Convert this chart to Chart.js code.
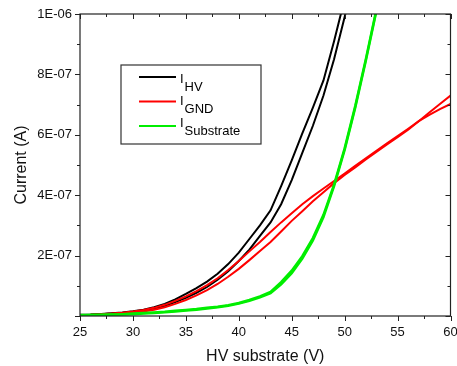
<!DOCTYPE html>
<html>
<head>
<meta charset="utf-8">
<script src="https://cdn.jsdelivr.net/npm/chart.js@4"></script>
<style>
  body { margin: 0; background: #fff; }
  #container { width: 457px; height: 366px; }
</style>
</head>
<body>
<div id="container"></div>
<script>
// bias voltage, V (one reading per volt)
var voltage = [25, 26, 27, 28, 29, 30, 31, 32, 33, 34, 35, 36, 37, 38, 39, 40, 41, 42,
               43, 44, 45, 46, 47, 48, 49, 50, 51, 52, 53, 54, 55, 56, 57, 58, 59, 60];

// currents in units of 1E-07 A, two sweeps per terminal
var hvSweep1 = [0.04, 0.05, 0.07, 0.09, 0.12, 0.16, 0.21, 0.29, 0.40, 0.55, 0.73, 0.92, 1.14, 1.40,
                1.72, 2.10, 2.55, 3.00, 3.50, 4.30, 5.15, 6.05, 6.90, 7.80, 9.10, 10.5, 12.0];
var hvSweep2 = [0.03, 0.04, 0.06, 0.08, 0.10, 0.13, 0.18, 0.25, 0.34, 0.46, 0.60, 0.77, 0.96, 1.20,
                1.48, 1.82, 2.20, 2.65, 3.10, 3.70, 4.50, 5.40, 6.30, 7.30, 8.50, 9.90, 11.4];
var gndSweep1 = [0.03, 0.04, 0.06, 0.08, 0.11, 0.15, 0.20, 0.27, 0.37, 0.50, 0.65, 0.82, 1.02, 1.25,
                 1.52, 1.82, 2.14, 2.45, 2.78, 3.10, 3.40, 3.70, 3.97, 4.22, 4.47, 4.72, 4.97, 5.22,
                 5.47, 5.72, 5.96, 6.20, 6.45, 6.66, 6.85, 7.02];
var gndSweep2 = [0.02, 0.03, 0.04, 0.06, 0.08, 0.11, 0.15, 0.21, 0.29, 0.40, 0.53, 0.68, 0.86, 1.06,
                 1.30, 1.56, 1.85, 2.15, 2.45, 2.80, 3.15, 3.47, 3.80, 4.10, 4.40, 4.67, 4.92, 5.18,
                 5.43, 5.68, 5.92, 6.17, 6.45, 6.74, 7.02, 7.30];
var subSweep1 = [0.03, 0.03, 0.04, 0.05, 0.06, 0.08, 0.10, 0.12, 0.14, 0.17, 0.20, 0.23, 0.27, 0.31,
                 0.36, 0.43, 0.53, 0.65, 0.80, 1.12, 1.50, 1.98, 2.58, 3.35, 4.35, 5.55, 6.95, 8.50,
                 10.15, 11.9];
var subSweep2 = [0.02, 0.03, 0.03, 0.04, 0.05, 0.06, 0.08, 0.10, 0.12, 0.15, 0.18, 0.21, 0.25, 0.29,
                 0.34, 0.41, 0.50, 0.62, 0.76, 1.05, 1.42, 1.90, 2.50, 3.28, 4.30, 5.50, 6.90, 8.45,
                 10.1, 11.85];
var unit = 1e-7;

var yTickLabels = ['', '2E-07', '4E-07', '6E-07', '8E-07', '1E-06'];
var legendSubs = ['HV', 'GND', 'Substrate'];
var seriesColors = ['#000000', '#ff0000', '#00ee00'];

function toPoints(values) {
    return values.map(function (v, i) { return { x: voltage[i], y: v * unit }; });
}

function sweep(values, color, width, order) {
    return {
        data: toPoints(values),
        borderColor: color,
        borderWidth: width,
        pointRadius: 0,
        tension: 0,
        fill: false,
        clip: 0,
        order: order
    };
}

var chartCanvas = document.createElement('canvas');
chartCanvas.id = 'chartcanvas';
chartCanvas.width = 457;
chartCanvas.height = 366;
document.getElementById('container').appendChild(chartCanvas);

// frame, minor ticks and mirror ticks like the Origin plot
var framePlugin = {
    id: 'frame',
    afterDraw: function (chart) {
        var c = chart.ctx, a = chart.chartArea;
        var xs = chart.scales.x, ys = chart.scales.y;
        c.save();
        c.strokeStyle = '#222';
        c.lineWidth = 1.2;
        c.strokeRect(a.left, a.top, a.right - a.left, a.bottom - a.top);
        c.lineWidth = 1;
        c.beginPath();
        for (var v = 25; v <= 60; v += 2.5) {
            var px = Math.round(xs.getPixelForValue(v)) + 0.5;
            var len = (v % 5 === 0) ? 5 : 3;
            c.moveTo(px, a.bottom); c.lineTo(px, a.bottom + len);
            c.moveTo(px, a.top); c.lineTo(px, a.top + len);
        }
        for (var k = 0; k <= 10; k++) {
            var py = Math.round(ys.getPixelForValue(k * 1e-7)) + 0.5;
            var l = (k % 2 === 0) ? 5 : 3;
            c.moveTo(a.left, py); c.lineTo(a.left - l, py);
            c.moveTo(a.right, py); c.lineTo(a.right - l, py);
        }
        c.stroke();

        // legend with subscripts
        c.strokeStyle = '#333';
        c.lineWidth = 1.2;
        c.strokeRect(121, 65, 140, 79);
        c.textBaseline = 'alphabetic';
        c.textAlign = 'left';
        for (var i = 0; i < legendSubs.length; i++) {
            var ly = 77 + 24.5 * i;
            c.strokeStyle = seriesColors[i];
            c.lineWidth = 2;
            c.beginPath();
            c.moveTo(139, ly); c.lineTo(176, ly);
            c.stroke();
            var ty = 83 + 22 * i;
            c.fillStyle = '#000';
            c.font = '13px "Liberation Sans", Arial, sans-serif';
            c.fillText('I', 180, ty);
            var w = c.measureText('I').width;
            c.fillText(legendSubs[i], 180 + w + 1, ty + 7.5);
        }
        c.restore();
    }
};

var tickFont = { family: '"Liberation Sans", Arial, sans-serif', size: 13 };
var titleFont = { family: '"Liberation Sans", Arial, sans-serif', size: 16 };

var myChart = new Chart(chartCanvas, {
    type: 'line',
    data: {
        datasets: [
            sweep(hvSweep1, seriesColors[0], 2, 3),
            sweep(hvSweep2, seriesColors[0], 2, 3),
            sweep(gndSweep1, seriesColors[1], 2, 2),
            sweep(gndSweep2, seriesColors[1], 2, 2),
            sweep(subSweep1, seriesColors[2], 2.5, 1),
            sweep(subSweep2, seriesColors[2], 2.5, 1)
        ]
    },
    options: {
        responsive: false,
        animation: false,
        layout: { padding: { left: 0, right: 6.5, top: 14, bottom: 0 } },
        plugins: {
            legend: { display: false },
            tooltip: { enabled: false }
        },
        scales: {
            x: {
                type: 'linear',
                min: 25,
                max: 60,
                border: { display: false },
                grid: { drawOnChartArea: false, color: 'rgba(0,0,0,0)', tickLength: 5 },
                ticks: { stepSize: 5, color: '#111', font: tickFont, padding: 4, maxRotation: 0 },
                title: { display: true, text: 'HV substrate (V)', color: '#111', font: titleFont,
                         padding: { top: 0, bottom: 0 } },
                afterFit: function (s) { s.height = 50; s.paddingLeft = 0; s.paddingRight = 0; }
            },
            y: {
                type: 'linear',
                min: 0,
                max: 1e-6,
                border: { display: false },
                grid: { drawOnChartArea: false, color: 'rgba(0,0,0,0)', tickLength: 5 },
                ticks: {
                    stepSize: 2e-7,
                    color: '#111',
                    font: tickFont,
                    padding: 3,
                    callback: function (value, index) { return yTickLabels[index]; }
                },
                title: { display: true, text: 'Current (A)', color: '#111', font: titleFont,
                         padding: { top: 12, bottom: 0 } },
                afterFit: function (s) { s.width = 80; }
            }
        }
    },
    plugins: [framePlugin]
});
</script>
</body>
</html>
